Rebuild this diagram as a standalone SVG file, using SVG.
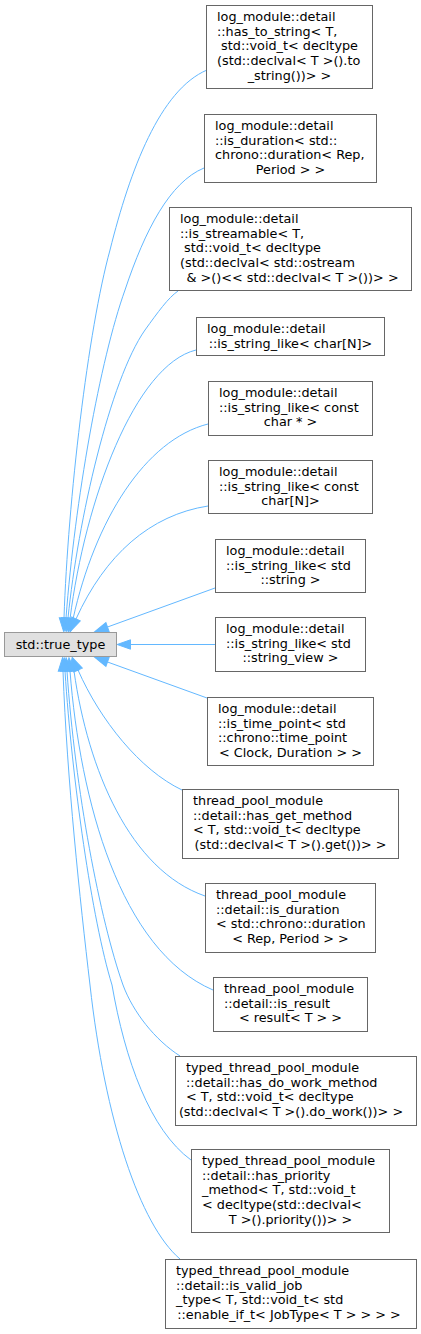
<svg xmlns="http://www.w3.org/2000/svg" width="421" height="1334" viewBox="0 0 421 1334">
<style>
.n rect{fill:#ffffff;stroke:#666666;stroke-width:1}
.root rect{fill:#e0e0e0;stroke:#999999;stroke-width:1}
text{font-family:"DejaVu Sans","Liberation Sans",sans-serif;font-size:12.8px;fill:#000000;white-space:pre}
.c{text-anchor:middle}
#edges path{fill:none;stroke:#63b8ff;stroke-width:1;marker-start:url(#arr)}
</style>
<defs>
<marker id="arr" markerUnits="userSpaceOnUse" viewBox="0 0 13.3 9.4" refX="0" refY="4.7" markerWidth="13.3" markerHeight="9.4" orient="auto-start-reverse" overflow="visible">
<path d="M0,0 L13.3,4.7 L0,9.4 Z" fill="#63b8ff" stroke="#63b8ff" stroke-width="1"/>
</marker>
</defs>
<rect width="421" height="1334" fill="#ffffff"/>
<g id="edges">
<path d="M64,618 C68,500 88,330 110,250 C130,170 160,90 207,70"/>
<path d="M66,618 C75,500 100,360 125,290 C145,230 170,182 204,168"/>
<path d="M68,618 C78,520 110,380 145,330 C158,312 168,298 178,291"/>
<path d="M70,619 C85,500 135,365 196,350"/>
<path d="M73,619 C95,520 145,440 208,424"/>
<path d="M76,619 C105,555 150,515 208,506"/>
<path d="M107.5,627 L215,588"/>
<path d="M130.5,644.5 L215,644.5"/>
<path d="M107.5,662 L207,698"/>
<path d="M78,670 C100,720 140,770 182,790"/>
<path d="M74,671 C88,770 130,870 205,896"/>
<path d="M70,671 C80,800 120,950 213,990"/>
<path d="M67,671 C75,790 100,920 123,985 C133,1012 155,1040 180,1056"/>
<path d="M65,671 C72,780 92,920 112,985 C125,1060 150,1130 191,1160"/>
<path d="M63,671 C67,780 80,900 90,985 C105,1120 140,1225 180,1259"/>
</g>
<g id="root" class="root">
<rect x="4.5" y="632.5" width="112" height="24"/>
<text class="c" x="60.5" y="648.5">std::true_type</text>
</g>
<g id="n1" class="n">
<rect x="206.5" y="5.5" width="166" height="83"/>
<text><tspan x="217" y="21">log_module::detail</tspan><tspan x="217" y="35.67">::has_to_string&lt; T,</tspan><tspan x="217" y="50.33"> std::void_t&lt; decltype</tspan><tspan x="217" y="65">(std::declval&lt; T &gt;().to</tspan></text>
<text class="c" x="289.5" y="79.67">_string())&gt; &gt;</text>
</g>
<g id="n2" class="n">
<rect x="204.5" y="114.5" width="172" height="68"/>
<text><tspan x="215" y="130">log_module::detail</tspan><tspan x="215" y="144.67">::is_duration&lt; std::</tspan><tspan x="215" y="159.33">chrono::duration&lt; Rep,</tspan></text>
<text class="c" x="290.5" y="174">Period &gt; &gt;</text>
</g>
<g id="n3" class="n">
<rect x="169.5" y="207.5" width="242" height="83"/>
<text><tspan x="180" y="223">log_module::detail</tspan><tspan x="180" y="237.67">::is_streamable&lt; T,</tspan><tspan x="180" y="252.33"> std::void_t&lt; decltype</tspan><tspan x="180" y="267">(std::declval&lt; std::ostream</tspan></text>
<text class="c" x="290.5" y="281.67"> &amp; &gt;()&lt;&lt; std::declval&lt; T &gt;())&gt; &gt;</text>
</g>
<g id="n4" class="n">
<rect x="196.5" y="317.5" width="188" height="38"/>
<text x="207" y="333">log_module::detail</text>
<text class="c" x="290.5" y="347.67">::is_string_like&lt; char[N]&gt;</text>
</g>
<g id="n5" class="n">
<rect x="208.5" y="381.5" width="164" height="54"/>
<text><tspan x="219" y="397">log_module::detail</tspan><tspan x="219" y="411.67">::is_string_like&lt; const</tspan></text>
<text class="c" x="290.5" y="426.33">char * &gt;</text>
</g>
<g id="n6" class="n">
<rect x="208.5" y="460.5" width="164" height="53"/>
<text><tspan x="219" y="476">log_module::detail</tspan><tspan x="219" y="490.67">::is_string_like&lt; const</tspan></text>
<text class="c" x="290.5" y="505.33">char[N]&gt;</text>
</g>
<g id="n7" class="n">
<rect x="215.5" y="539.5" width="150" height="53"/>
<text><tspan x="226" y="555">log_module::detail</tspan><tspan x="226" y="569.67">::is_string_like&lt; std</tspan></text>
<text class="c" x="290.5" y="584.33">::string &gt;</text>
</g>
<g id="n8" class="n">
<rect x="215.5" y="617.5" width="150" height="54"/>
<text><tspan x="226" y="633">log_module::detail</tspan><tspan x="226" y="647.67">::is_string_like&lt; std</tspan></text>
<text class="c" x="290.5" y="662.33">::string_view &gt;</text>
</g>
<g id="n9" class="n">
<rect x="207.5" y="697.5" width="166" height="68"/>
<text><tspan x="218" y="713">log_module::detail</tspan><tspan x="218" y="727.67">::is_time_point&lt; std</tspan><tspan x="218" y="742.33">::chrono::time_point</tspan></text>
<text class="c" x="290.5" y="757">&lt; Clock, Duration &gt; &gt;</text>
</g>
<g id="n10" class="n">
<rect x="182.5" y="789.5" width="216" height="69"/>
<text><tspan x="193" y="805">thread_pool_module</tspan><tspan x="193" y="819.67">::detail::has_get_method</tspan><tspan x="193" y="834.33">&lt; T, std::void_t&lt; decltype</tspan></text>
<text class="c" x="290.5" y="849">(std::declval&lt; T &gt;().get())&gt; &gt;</text>
</g>
<g id="n11" class="n">
<rect x="205.5" y="883.5" width="170" height="69"/>
<text><tspan x="216" y="899">thread_pool_module</tspan><tspan x="216" y="913.67">::detail::is_duration</tspan><tspan x="216" y="928.33">&lt; std::chrono::duration</tspan></text>
<text class="c" x="290.5" y="943">&lt; Rep, Period &gt; &gt;</text>
</g>
<g id="n12" class="n">
<rect x="213.5" y="977.5" width="154" height="54"/>
<text><tspan x="224" y="993">thread_pool_module</tspan><tspan x="224" y="1007.67">::detail::is_result</tspan></text>
<text class="c" x="290.5" y="1022.33">&lt; result&lt; T &gt; &gt;</text>
</g>
<g id="n13" class="n">
<rect x="175.5" y="1056.5" width="241" height="69"/>
<text><tspan x="186" y="1072">typed_thread_pool_module</tspan><tspan x="186" y="1086.67">::detail::has_do_work_method</tspan><tspan x="186" y="1101.33">&lt; T, std::void_t&lt; decltype</tspan></text>
<text class="c" x="291" y="1116">(std::declval&lt; T &gt;().do_work())&gt; &gt;</text>
</g>
<g id="n14" class="n">
<rect x="191.5" y="1149.5" width="198" height="83"/>
<text><tspan x="202" y="1165">typed_thread_pool_module</tspan><tspan x="202" y="1179.67">::detail::has_priority</tspan><tspan x="202" y="1194.33">_method&lt; T, std::void_t</tspan><tspan x="202" y="1209">&lt; decltype(std::declval&lt;</tspan></text>
<text class="c" x="290.5" y="1223.67">T &gt;().priority())&gt; &gt;</text>
</g>
<g id="n15" class="n">
<rect x="165.5" y="1259.5" width="251" height="69"/>
<text><tspan x="176" y="1275">typed_thread_pool_module</tspan><tspan x="176" y="1289.67">::detail::is_valid_job</tspan><tspan x="176" y="1304.33">_type&lt; T, std::void_t&lt; std</tspan></text>
<text class="c" x="289" y="1319">::enable_if_t&lt; JobType&lt; T &gt; &gt; &gt; &gt;</text>
</g>
</svg>
